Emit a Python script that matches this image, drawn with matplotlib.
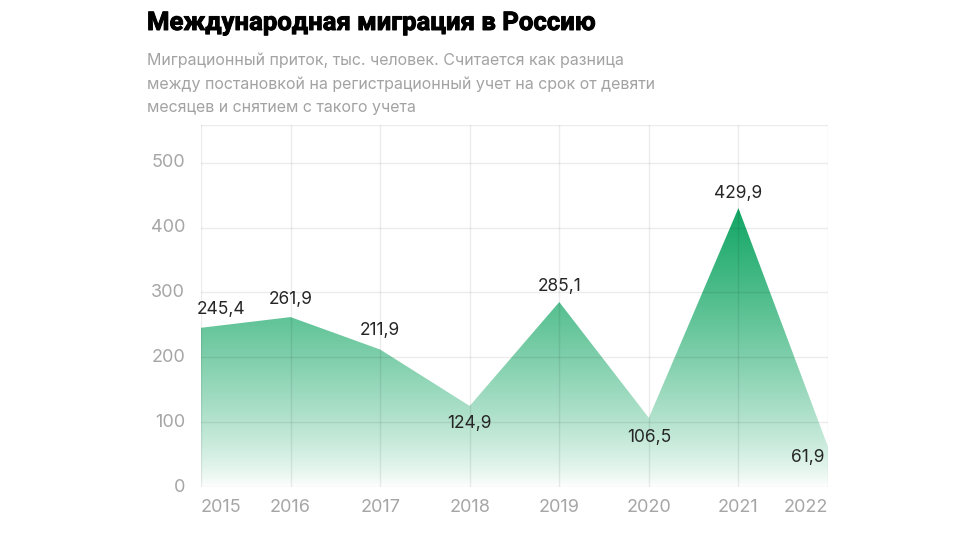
import matplotlib
matplotlib.use("Agg")
import matplotlib.pyplot as plt
import numpy as np
from matplotlib.colors import to_rgb
import matplotlib.patheffects as pe

years = [2015, 2016, 2017, 2018, 2019, 2020, 2021, 2022]
values = [245.4, 261.9, 211.9, 124.9, 285.1, 106.5, 429.9, 61.9]
yticks = [0, 100, 200, 300, 400, 500]

title = "Международная миграция в Россию"
subtitle = ("Миграционный приток, тыс. человек. Считается как разница\n"
            "между постановкой на регистрационный учет на срок от девяти\n"
            "месяцев и снятием с такого учета")

plt.rcParams['font.family'] = ['Inter', 'DejaVu Sans']

W, H = 975, 540
fig = plt.figure(figsize=(W / 100, H / 100), dpi=100)
fig.patch.set_facecolor('white')

x0p, x1p, y0p, y1p = 201, 828, 487, 125
ax = fig.add_axes([x0p / W, 1 - y0p / H, (x1p - x0p) / W, (y0p - y1p) / H])
ymax = 558
x = np.arange(len(years))
ax.set_xlim(x[0], x[-1])
ax.set_ylim(0, ymax)

# gradient fill clipped to area
top = np.array(to_rgb('#12a664'))
white = np.array([1.0, 1.0, 1.0])
ys = np.linspace(0, ymax, 600)
t = np.clip(ys / 430.0, 0, 1) ** 0.8
cols = white[None, :] * (1 - t[:, None]) + top[None, :] * t[:, None]
img = np.repeat(cols[:, None, :], 2, axis=1)
poly = ax.fill_between(x, values, 0, color='none', lw=0)
im = ax.imshow(img, extent=[x[0], x[-1], 0, ymax], origin='lower', aspect='auto', zorder=1)
path = poly.get_paths()[0]
im.set_clip_path(path, transform=ax.transData)

# grid
gcol = (0, 0, 0, 0.075)
for yv in yticks + [ymax]:
    ax.axhline(yv, color=gcol, lw=1, zorder=2)
for xv in x:
    ax.axvline(xv, color=gcol, lw=1, zorder=2)

for s in ax.spines.values():
    s.set_visible(False)
ax.set_xticks([])
ax.set_yticks([])

tick_color = '#a6a6a6'
for yv in yticks:
    ax.annotate(str(yv), (x[0], yv), xytext=(-16, 0), textcoords='offset pixels',
                ha='right', va='center', fontsize=13, color=tick_color)
for i, yr in enumerate(years):
    ha = 'center'
    if i == 0:
        ha = 'left'
    elif i == len(years) - 1:
        ha = 'right'
    ax.annotate(str(yr), (x[i], 0), xytext=(0, -20), textcoords='offset pixels',
                ha=ha, va='center', fontsize=13, color=tick_color)

# value labels: (dx, dy, ha)
offs = [(-4, 18, 'left'), (0, 18, 'center'), (0, 19, 'center'), (0, -18, 'center'),
        (0, 16, 'center'), (0, -20, 'center'), (0, 15, 'center'), (-4, -11, 'right')]
for i, v in enumerate(values):
    dx, dy, ha = offs[i]
    ax.annotate(f"{v:.1f}".replace('.', ','), (x[i], v), xytext=(dx, dy),
                textcoords='offset pixels', ha=ha, va='center', fontsize=12.5,
                color='#262626', zorder=5)

fig.text(147 / W, 1 - 11 / H, title, ha='left', va='top', fontsize=18.5,
         fontweight='bold', color='#000000', family=['Roboto', 'DejaVu Sans'],
         path_effects=[pe.withStroke(linewidth=0.7, foreground='black')])
fig.text(147 / W, 1 - 53 / H, subtitle, ha='left', va='top', fontsize=11.5,
         color='#a3a3a3', linespacing=1.65)

fig.savefig('out.png', dpi=100, facecolor='white')
